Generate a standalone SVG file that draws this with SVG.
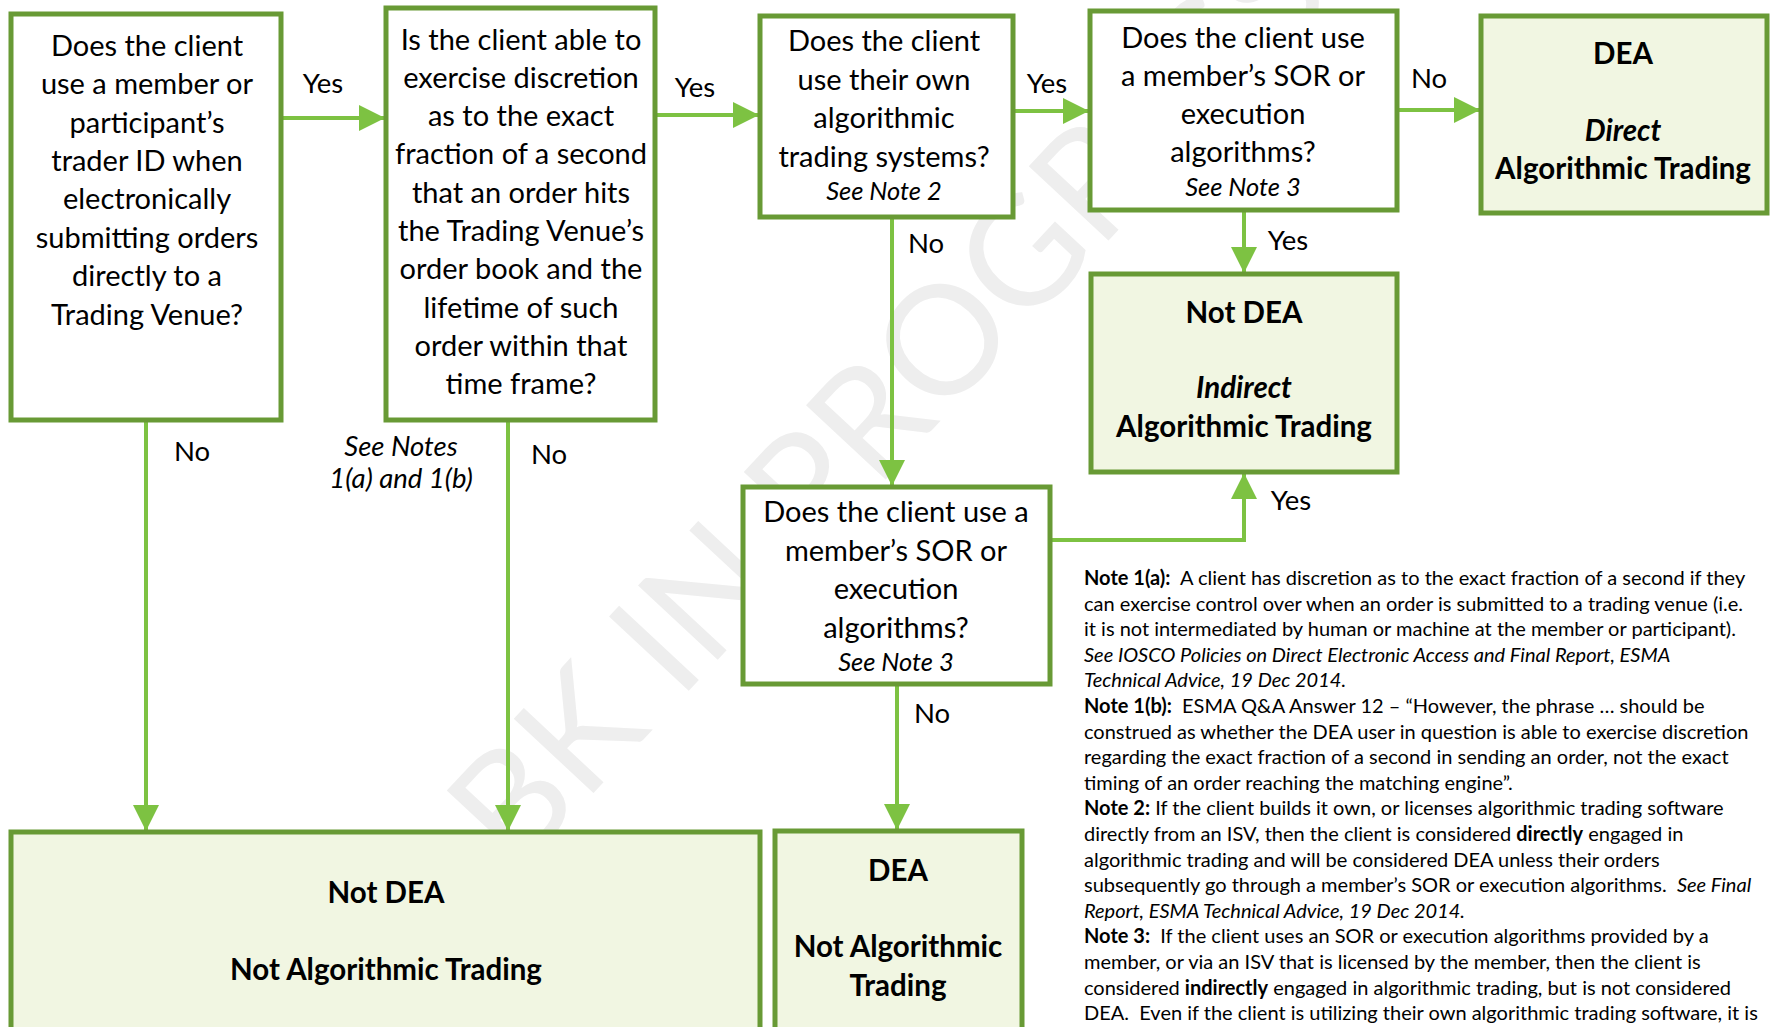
<svg xmlns="http://www.w3.org/2000/svg" width="1771" height="1027" viewBox="0 0 1771 1027">
<defs>
<style>
.box{fill:#ffffff;stroke:#689A35;stroke-width:5}
.res{fill:#F1F6E2;stroke:#689A35;stroke-width:5}
.t{font-family:Lato,"Liberation Sans",sans-serif;font-size:29px;fill:#000;text-anchor:middle}
.b{font-weight:bold;font-size:29.5px}
.i{font-style:italic}
.sm{font-size:25.5px}
.lab{font-family:Lato,"Liberation Sans",sans-serif;font-size:27.5px;fill:#000}
.note{font-family:Lato,"Liberation Sans",sans-serif;font-size:20px;fill:#000;white-space:pre}
.con{fill:none;stroke:#7DC242;stroke-width:4}
.wm{font-family:Lato,"Liberation Sans",sans-serif;font-size:152px;fill:#EEEEEE}
</style>
<marker id="ah" markerUnits="userSpaceOnUse" markerWidth="26" markerHeight="26" refX="26" refY="13" orient="auto">
<path d="M0,0 L26,13 L0,26 z" fill="#7DC242"/>
</marker>
</defs>
<rect width="1771" height="1027" fill="#ffffff"/>
<text class="wm" x="517" y="875" transform="rotate(-47 517 875)">BK IN PROGRESS</text>

<g id="connectors">
<path class="con" d="M282,118 H385" marker-end="url(#ah)"/>
<path class="con" d="M657,115 H759" marker-end="url(#ah)"/>
<path class="con" d="M1015,111 H1089" marker-end="url(#ah)"/>
<path class="con" d="M1399,110 H1480" marker-end="url(#ah)"/>
<path class="con" d="M1244,212 V273" marker-end="url(#ah)"/>
<path class="con" d="M892,219 V486" marker-end="url(#ah)"/>
<path class="con" d="M1052,540 H1244 V473" marker-end="url(#ah)"/>
<path class="con" d="M897,686 V830" marker-end="url(#ah)"/>
<path class="con" d="M146,422 V831" marker-end="url(#ah)"/>
<path class="con" d="M508,422 V831" marker-end="url(#ah)"/>
<text class="lab" x="323" y="93" text-anchor="middle">Yes</text>
<text class="lab" x="695" y="97" text-anchor="middle">Yes</text>
<text class="lab" x="1047" y="93" text-anchor="middle">Yes</text>
<text class="lab" x="1429" y="88" text-anchor="middle">No</text>
<text class="lab" x="1288" y="250" text-anchor="middle">Yes</text>
<text class="lab" x="926" y="253" text-anchor="middle">No</text>
<text class="lab" x="1291" y="510" text-anchor="middle">Yes</text>
<text class="lab" x="932" y="723" text-anchor="middle">No</text>
<text class="lab" x="192" y="461" text-anchor="middle">No</text>
<text class="lab" x="549" y="464" text-anchor="middle">No</text>
<text class="lab i" x="401" y="456" text-anchor="middle" font-size="24">See Notes</text>
<text class="lab i" x="401" y="488" text-anchor="middle" font-size="24">1(a) and 1(b)</text>
</g>

<g id="q1">
<rect class="box" x="11" y="14" width="270" height="406"/>
<text class="t"><tspan x="147" y="56">Does the client</tspan><tspan x="147" y="94">use a member or</tspan><tspan x="147" y="133">participant’s</tspan><tspan x="147" y="171">trader ID when</tspan><tspan x="147" y="209">electronically</tspan><tspan x="147" y="248">submitting orders</tspan><tspan x="147" y="286">directly to a</tspan><tspan x="147" y="325">Trading Venue?</tspan></text>
</g>

<g id="q2">
<rect class="box" x="386" y="8" width="269" height="412"/>
<text class="t"><tspan x="521" y="49.5">Is the client able to</tspan><tspan x="521" y="87.8">exercise discretion</tspan><tspan x="521" y="126.1">as to the exact</tspan><tspan x="521" y="164.4">fraction of a second</tspan><tspan x="521" y="202.7">that an order hits</tspan><tspan x="521" y="241">the Trading Venue’s</tspan><tspan x="521" y="279.3">order book and the</tspan><tspan x="521" y="317.6">lifetime of such</tspan><tspan x="521" y="355.9">order within that</tspan><tspan x="521" y="394.2">time frame?</tspan></text>
</g>

<g id="q3">
<rect class="box" x="760" y="16" width="253" height="201"/>
<text class="t"><tspan x="884" y="51">Does the client</tspan><tspan x="884" y="89.5">use their own</tspan><tspan x="884" y="128">algorithmic</tspan><tspan x="884" y="166.5">trading systems?</tspan></text>
<text class="t i sm" x="884" y="200">See Note 2</text>
</g>

<g id="q4">
<rect class="box" x="1090" y="11" width="307" height="199"/>
<text class="t"><tspan x="1243" y="48">Does the client use</tspan><tspan x="1243" y="86">a member’s SOR or</tspan><tspan x="1243" y="124">execution</tspan><tspan x="1243" y="162">algorithms?</tspan></text>
<text class="t i sm" x="1243" y="196">See Note 3</text>
</g>

<g id="r1">
<rect class="res" x="1481" y="16" width="286" height="197"/>
<text class="t b" x="1623" y="63.5">DEA</text>
<text class="t b i" x="1623" y="140.5">Direct</text>
<text class="t b" x="1623" y="178.5">Algorithmic Trading</text>
</g>

<g id="r2">
<rect class="res" x="1091" y="274" width="306" height="198"/>
<text class="t b" x="1244" y="322.5">Not DEA</text>
<text class="t b i" x="1244" y="398">Indirect</text>
<text class="t b" x="1244" y="436.5">Algorithmic Trading</text>
</g>

<g id="q5">
<rect class="box" x="743" y="487" width="307" height="197"/>
<text class="t"><tspan x="896" y="522">Does the client use a</tspan><tspan x="896" y="560.5">member’s SOR or</tspan><tspan x="896" y="599">execution</tspan><tspan x="896" y="637.5">algorithms?</tspan></text>
<text class="t i sm" x="896" y="671">See Note 3</text>
</g>

<g id="r3">
<rect class="res" x="11" y="832" width="749" height="210"/>
<text class="t b" x="386" y="903">Not DEA</text>
<text class="t b" x="386" y="979.5">Not Algorithmic Trading</text>
</g>

<g id="r4">
<rect class="res" x="775" y="831" width="247" height="210"/>
<text class="t b" x="898" y="880.5">DEA</text>
<text class="t b" x="898" y="957">Not Algorithmic</text>
<text class="t b" x="898" y="995.5">Trading</text>
</g>

<g id="notes">
<text class="note" x="1084" y="585"><tspan font-weight="bold">Note 1(a):</tspan>  A client has discretion as to the exact fraction of a second if they</text>
<text class="note" x="1084" y="610.6">can exercise control over when an order is submitted to a trading venue (i.e.</text>
<text class="note" x="1084" y="636.2">it is not intermediated by human or machine at the member or participant).</text>
<text class="note i" x="1084" y="661.8">See IOSCO Policies on Direct Electronic Access and Final Report, ESMA</text>
<text class="note i" x="1084" y="687.4">Technical Advice, 19 Dec 2014.</text>
<text class="note" x="1084" y="713"><tspan font-weight="bold">Note 1(b):</tspan>  ESMA Q&amp;A Answer 12 – “However, the phrase … should be</text>
<text class="note" x="1084" y="738.6">construed as whether the DEA user in question is able to exercise discretion</text>
<text class="note" x="1084" y="764.2">regarding the exact fraction of a second in sending an order, not the exact</text>
<text class="note" x="1084" y="789.8">timing of an order reaching the matching engine”.</text>
<text class="note" x="1084" y="815.4"><tspan font-weight="bold">Note 2:</tspan> If the client builds it own, or licenses algorithmic trading software</text>
<text class="note" x="1084" y="841">directly from an ISV, then the client is considered <tspan font-weight="bold">directly</tspan> engaged in</text>
<text class="note" x="1084" y="866.6">algorithmic trading and will be considered DEA unless their orders</text>
<text class="note" x="1084" y="892.2">subsequently go through a member’s SOR or execution algorithms.  <tspan font-style="italic">See Final</tspan></text>
<text class="note i" x="1084" y="917.8">Report, ESMA Technical Advice, 19 Dec 2014.</text>
<text class="note" x="1084" y="943.4"><tspan font-weight="bold">Note 3:</tspan>  If the client uses an SOR or execution algorithms provided by a</text>
<text class="note" x="1084" y="969">member, or via an ISV that is licensed by the member, then the client is</text>
<text class="note" x="1084" y="994.6">considered <tspan font-weight="bold">indirectly</tspan> engaged in algorithmic trading, but is not considered</text>
<text class="note" x="1084" y="1020.2">DEA.  Even if the client is utilizing their own algorithmic trading software, it is</text>
</g>
</svg>
